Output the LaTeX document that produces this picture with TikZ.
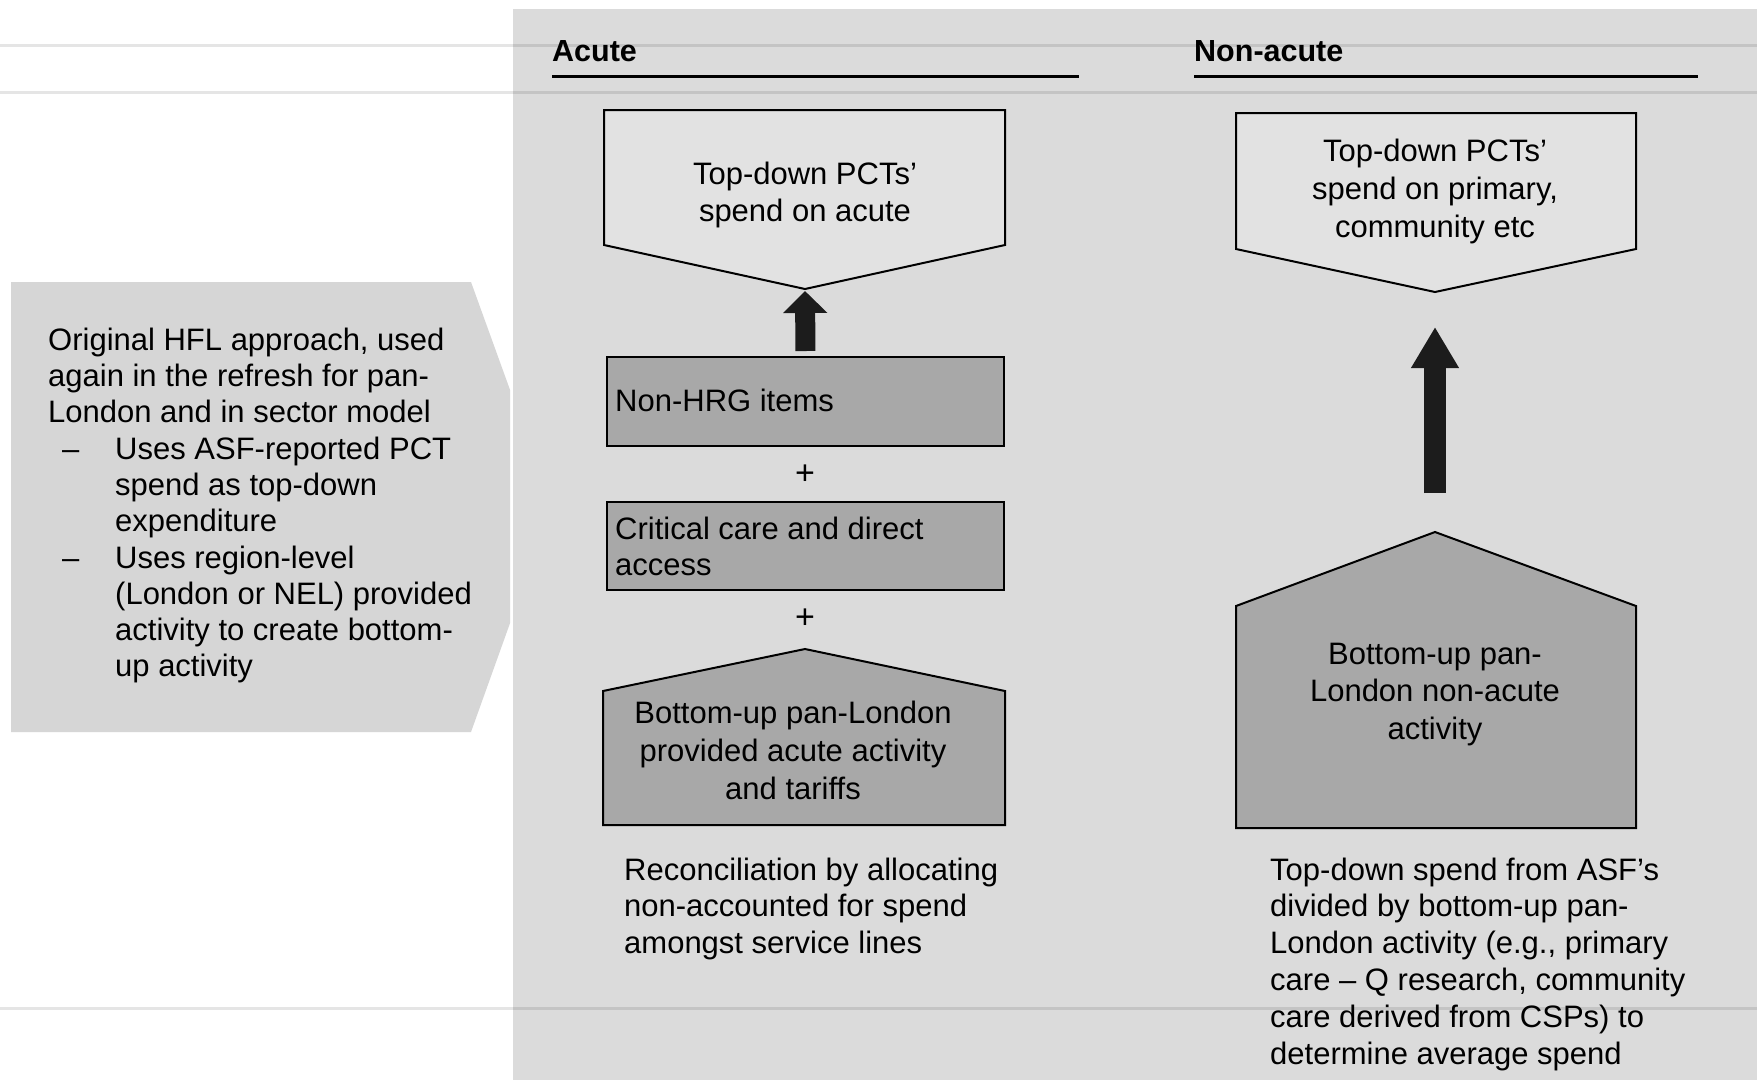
\documentclass[tikz,border=0pt]{standalone}
\usepackage{fontspec}
\setmainfont{Liberation Sans}
\usetikzlibrary{arrows.meta}
\definecolor{panel}{RGB}{219,219,219}
\definecolor{leftbox}{RGB}{214,214,214}
\definecolor{lightbox}{RGB}{226,226,226}
\definecolor{darkbox}{RGB}{168,168,168}
\definecolor{arrowc}{RGB}{28,28,28}
\begin{document}
\begin{tikzpicture}[x=1pt,y=-1pt,
  txt/.style={inner sep=0pt, font=\fontsize{31}{36}\selectfont},
  headtxt/.style={inner sep=0pt, font=\fontsize{30.5}{36}\selectfont\bfseries},
  plustxt/.style={inner sep=0pt, font=\fontsize{34}{36}\selectfont},
  outline/.style={draw=black, line width=2pt, line join=miter},
  lightshape/.style={outline, fill=lightbox},
  darkshape/.style={outline, fill=darkbox},
  blockarrow/.style n args={3}{draw=arrowc, line width=#1, line cap=butt,
    -{Triangle[width=#2, length=#3, fill=arrowc]}},
  rule/.style={draw=black, line width=3pt},
  scanline/.style={draw=black, opacity=0.10, line width=3pt}]

\useasboundingbox (0,0) rectangle (1757,1080);
\fill[white] (0,0) rectangle (1757,1080);

% right-hand panel
\fill[panel] (513,9) rectangle (1757,1080);

% left call-out shape, its point tucked under the panel
\begin{scope}
  \clip (0,0) rectangle (510,1080);
  \fill[leftbox] (11,282) -- (471,282) -- (552,506) -- (471,732) -- (11,732) -- cycle;
\end{scope}

% faint horizontal bands
\draw[scanline] (0,45) -- (1757,45);
\draw[scanline] (0,92) -- (1757,92);
\draw[scanline] (0,1008) -- (1757,1008);

% left text
\foreach \t [count=\i from 0] in {{Original HFL approach, used},{again in the refresh for pan-},{London and in sector model}}
  \node[txt, anchor=base west] (hfl-\i) at (48, 350+36.3*\i) {\t};
\node[txt, anchor=base west] (dashA) at (62, 459) {–};
\foreach \t [count=\i from 0] in {{Uses ASF-reported PCT},{spend as top-down},{expenditure}}
  \node[txt, anchor=base west] (asf-\i) at (115, 459+36.3*\i) {\t};
\node[txt, anchor=base west] (dashB) at (62, 568) {–};
\foreach \t [count=\i from 0] in {{Uses region-level},{(London or NEL) provided},{activity to create bottom-},{up activity}}
  \node[txt, anchor=base west] (reg-\i) at (115, 568+36.3*\i) {\t};

% column headings
\node[headtxt, anchor=base west] (acuteHead) at (552, 61) {Acute};
\draw[rule] (552,76) -- (1079,76);
\node[headtxt, anchor=base west] (nonacuteHead) at (1194, 61) {Non-acute};
\draw[rule] (1194,76) -- (1698,76);

% ---- acute column ----
\path[lightshape] (604,110) -- (1005,110) -- (1005,245) -- (805,289) -- (604,245) -- cycle;
\coordinate (topAtip) at (805,291);
\foreach \t [count=\i from 0] in {{Top-down PCTs’},{spend on acute}}
  \node[txt, anchor=base] (topA-\i) at (805, 184+37*\i) {\t};

\node[darkshape, anchor=north west, minimum width=397pt, minimum height=89pt, inner sep=0pt] (nonhrg) at (606,356) {};
\node[txt, anchor=base west] (nonhrgText) at (615, 411) {Non-HRG items};

\node[plustxt] (plusA) at (805, 475) {+};

\node[darkshape, anchor=north west, minimum width=397pt, minimum height=88pt, inner sep=0pt] (critical) at (606,501) {};
\node[txt, anchor=base west] (critical-0) at (615, 539) {Critical care and direct};
\node[txt, anchor=base west] (critical-1) at (615, 575) {access};

\node[plustxt] (plusB) at (805, 619) {+};

\path[darkshape] (805,649) -- (1005,691) -- (1005,825) -- (603,825) -- (603,691) -- cycle;
\foreach \t [count=\i from 0] in {{Bottom-up pan-London},{provided acute activity},{and tariffs}}
  \node[txt, anchor=base] (botA-\i) at (793, 723+38*\i) {\t};

\draw[blockarrow={20pt}{43pt}{22pt}, shorten <=5pt] (nonhrg.north) -- (topAtip);

\foreach \t [count=\i from 0] in {{Reconciliation by allocating},{non-accounted for spend},{amongst service lines}}
  \node[txt, anchor=base west] (recon-\i) at (624, 880+36.5*\i) {\t};

% ---- non-acute column ----
\path[lightshape] (1236,113) -- (1636,113) -- (1636,249) -- (1435,292) -- (1236,249) -- cycle;
\foreach \t [count=\i from 0] in {{Top-down PCTs’},{spend on primary,},{community etc}}
  \node[txt, anchor=base] (topN-\i) at (1435, 161+38*\i) {\t};

\path[darkshape] (1435,532) -- (1636,606) -- (1636,828) -- (1236,828) -- (1236,606) -- cycle;
\foreach \t [count=\i from 0] in {{Bottom-up pan-},{London non-acute},{activity}}
  \node[txt, anchor=base] (botN-\i) at (1435, 664+37.5*\i) {\t};

\coordinate (arrowNfoot) at (1435,493);
\coordinate (arrowNtip) at (1435,327);
\draw[blockarrow={22pt}{45pt}{41pt}] (arrowNfoot) -- (arrowNtip);

\foreach \t [count=\i from 0] in {{Top-down spend from ASF’s},{divided by bottom-up pan-},{London activity (e.g., primary},{care – Q research, community},{care derived from CSPs) to},{determine average spend}}
  \node[txt, anchor=base west] (note-\i) at (1270, 880+36.8*\i) {\t};

\end{tikzpicture}
\end{document}
